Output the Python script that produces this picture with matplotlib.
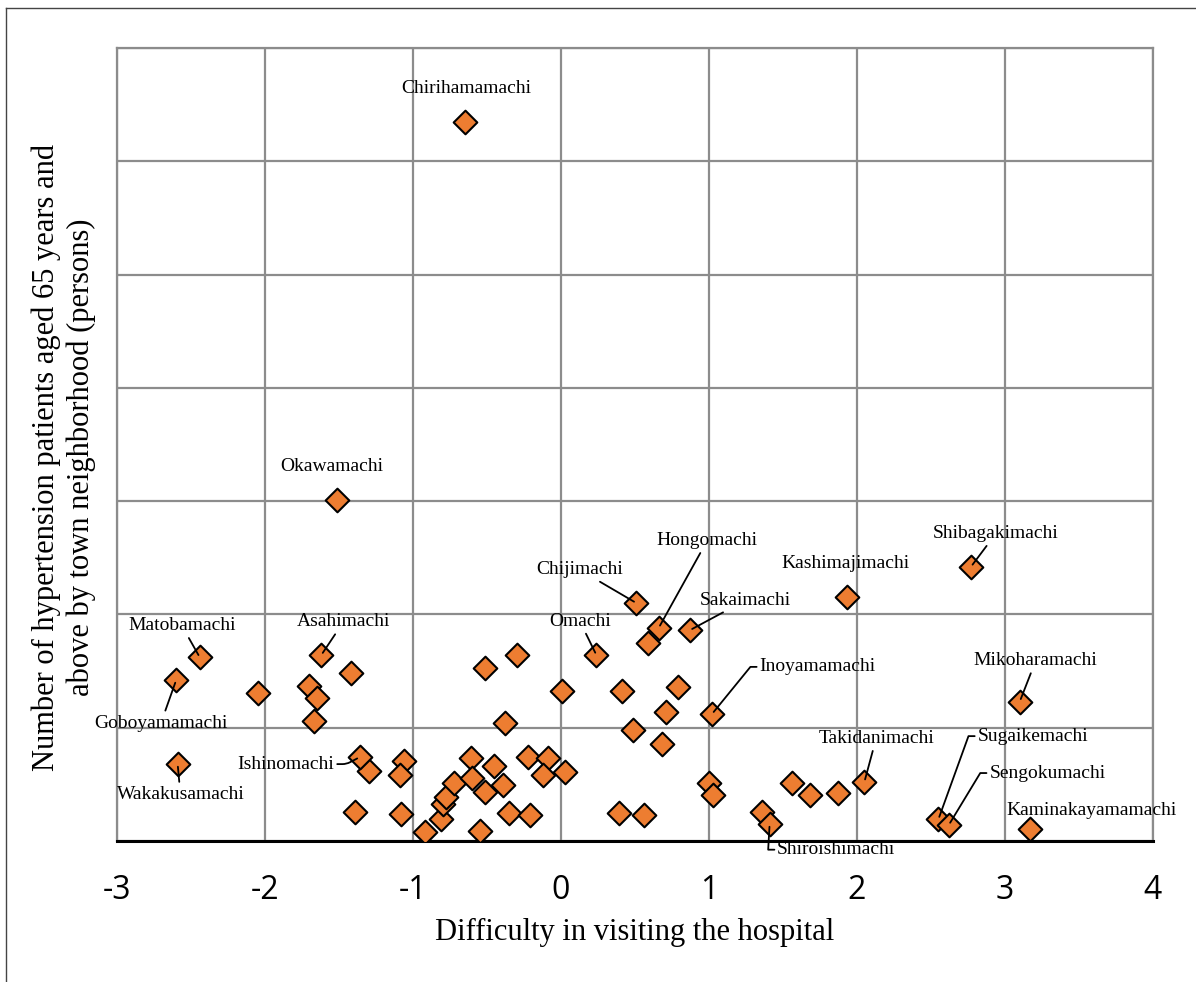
import matplotlib.pyplot as plt
from matplotlib.lines import Line2D

# towns with a label: difficulty score, patients (grid unit = 10 persons)
towns = ["Chirihamamachi", "Okawamachi", "Matobamachi", "Goboyamamachi",
         "Wakakusamachi", "Asahimachi", "Ishinomachi", "Chijimachi", "Omachi",
         "Hongomachi", "Sakaimachi", "Kashimajimachi", "Shibagakimachi",
         "Inoyamamachi", "Mikoharamachi", "Takidanimachi", "Sugaikemachi",
         "Sengokumachi", "Kaminakayamamachi", "Shiroishimachi"]
town_x = [-0.65, -1.51, -2.44, -2.60, -2.59, -1.62, -1.36, 0.51, 0.24, 0.66,
          0.87, 1.93, 2.77, 1.02, 3.10, 2.05, 2.55, 2.62, 3.17, 1.41]
town_y = [63.5, 30.1, 16.2, 14.2, 6.8, 16.4, 7.4, 21.0, 16.4, 18.8,
          18.6, 21.5, 24.2, 11.2, 12.3, 5.2, 1.9, 1.4, 1.1, 1.5]

# the other towns (no label)
other_x = [-2.05, -1.42, -1.70, -1.65, -1.67, -1.30, -1.06, -1.09, -1.39, -1.08,
           -0.92, -0.81, -0.80, -0.78, -0.72, -0.61, -0.60, -0.51, -0.55, -0.45,
           -0.39, -0.35, -0.21, -0.22, -0.09, -0.12, 0.03, -0.38, -0.51, -0.30,
           0.01, 0.59, 0.41, 0.79, 0.71, 0.49, 0.68, 1.00, 1.03, 0.39,
           0.56, 1.36, 1.56, 1.68, 1.87]
other_y = [13.1, 14.8, 13.7, 12.6, 10.6, 6.2, 7.1, 5.8, 2.6, 2.4,
           0.8, 1.9, 3.3, 3.9, 5.1, 7.3, 5.6, 4.3, 0.9, 6.6,
           4.9, 2.5, 2.3, 7.4, 7.3, 5.8, 6.1, 10.4, 15.3, 16.4,
           13.2, 17.5, 13.2, 13.6, 11.4, 9.8, 8.6, 5.1, 4.1, 2.5,
           2.3, 2.6, 5.1, 4.1, 4.2]

xticks = [-3, -2, -1, 0, 1, 2, 3, 4]

# label placement: offset in points from the marker, leader style
label_pos = {
    "Chirihamamachi": (1, 24, None),
    "Okawamachi": (-4, 24, None),
    "Matobamachi": (-13, 23, "line"),
    "Goboyamamachi": (-11, -31, "line"),
    "Wakakusamachi": (2, -22, "line"),
    "Asahimachi": (16, 24, "line"),
    "Ishinomachi": (-53, -5, "right"),
    "Chijimachi": (-41, 24, "line"),
    "Omachi": (-12, 24.5, "line"),
    "Hongomachi": (35, 63, "line"),
    "Sakaimachi": (40, 21.5, "line"),
    "Kashimajimachi": (-1, 24.5, None),
    "Shibagakimachi": (18, 24, "line"),
    "Inoyamamachi": (76, 34, "left"),
    "Mikoharamachi": (11.5, 29.5, "line"),
    "Takidanimachi": (8.5, 31.5, "line"),
    "Sugaikemachi": (68, 60, "left"),
    "Sengokumachi": (71, 37.5, "left"),
    "Kaminakayamamachi": (44, 13, None),
    "Shiroishimachi": (48, -18.5, "left"),
}

serif = "Liberation Serif"

fig = plt.figure(figsize=(11.96, 9.82), dpi=100)
ax = fig.add_axes([0.0978, 0.1436, 0.8662, 0.8075])

ax.scatter(other_x, other_y, marker="D", s=145, color="#ED7D31",
           edgecolor="black", linewidth=1.5, zorder=3)
ax.scatter(town_x, town_y, marker="D", s=145, color="#ED7D31",
           edgecolor="black", linewidth=1.5, zorder=3)

for name, tx, ty in zip(towns, town_x, town_y):
    dx, dy, style = label_pos[name]
    arrow = None
    if style == "line":
        arrow = dict(arrowstyle="-", color="black", lw=1.3, shrinkA=1, shrinkB=2)
    elif style == "left":
        arrow = dict(arrowstyle="-", color="black", lw=1.3, shrinkA=0, shrinkB=2,
                     relpos=(0, 0.5),
                     connectionstyle="arc,angleA=180,armA=9,rad=0")
    elif style == "right":
        arrow = dict(arrowstyle="-", color="black", lw=1.3, shrinkA=0, shrinkB=2,
                     relpos=(1, 0.5),
                     connectionstyle="arc,angleA=0,armA=12,rad=4")
    ax.annotate(name, (tx, ty), xytext=(dx, dy), textcoords="offset points",
                ha="center", va="center", fontsize=14, family=serif,
                arrowprops=arrow, zorder=4, annotation_clip=False)

ax.set_xlim(-3, 4)
ax.set_ylim(0, 70)
ax.set_xticks(xticks)
ax.set_xticklabels([str(t) for t in xticks], family="Open Sans", fontsize=23)
ax.set_yticks(range(0, 71, 10))
ax.set_yticklabels([])
ax.tick_params(length=0, pad=24)
ax.grid(True, color="#8c8c8c", lw=1.6)
ax.set_axisbelow(True)
for side in ["left", "right", "top"]:
    ax.spines[side].set_color("#8c8c8c")
    ax.spines[side].set_linewidth(1.6)
ax.spines["bottom"].set_color("black")
ax.spines["bottom"].set_linewidth(2.2)

ax.set_xlabel("Difficulty in visiting the hospital", family=serif,
              fontsize=22, labelpad=8)
ax.set_ylabel("Number of hypertension patients aged 65 years and\n"
              "above by town neighborhood (persons)", family=serif,
              fontsize=22, linespacing=1.25)
ax.yaxis.set_label_coords(-0.02, 0.484)

# frame of the original figure (left and top edges)
fig.add_artist(Line2D([0.005, 0.005], [0, 0.992], color="#444444", lw=1))
fig.add_artist(Line2D([0.005, 1], [0.992, 0.992], color="#444444", lw=1))

fig.savefig("out.png", dpi=100)
